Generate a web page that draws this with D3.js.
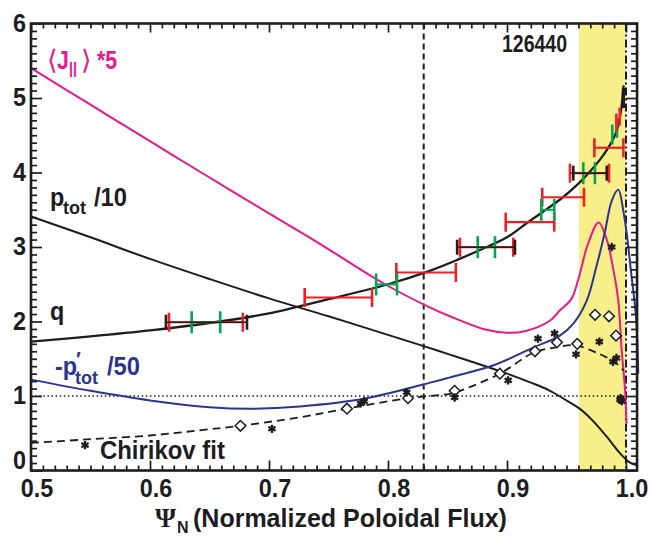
<!DOCTYPE html>
<html><head><meta charset="utf-8">
<script src="https://cdn.jsdelivr.net/npm/d3@7"></script>
<style>body{margin:0;background:#fff}svg{display:block}</style>
</head><body>
<svg id="chart" width="652" height="543"></svg>
<script>
// Profiles vs normalized poloidal flux, shot 126440
const qProfile = [[0.5,1.73],[0.55,1.8],[0.6,1.88],[0.65,1.98],[0.7,2.11],[0.75,2.3],[0.8,2.5],[0.835,2.68],[0.86,2.84],[0.883,3.0],[0.9,3.13],[0.9176,3.333],[0.93,3.47],[0.947,3.668],[0.96,3.85],[0.969,4.0],[0.978,4.17],[0.985,4.33],[0.9922,4.56],[0.9958,4.83],[0.998,5.17]];
const pTot = [[0.5,3.41],[0.55,3.13],[0.6,2.84],[0.65,2.57],[0.7,2.31],[0.75,2.07],[0.8,1.82],[0.83,1.67],[0.852,1.555],[0.88,1.41],[0.9,1.3],[0.92,1.18],[0.935,1.08],[0.947,0.97],[0.961,0.83],[0.972,0.67],[0.984,0.45],[0.995,0.23],[1.003,0.11],[1.009,0.07]];
const jPar = [[0.5,5.4],[0.55,4.91],[0.6,4.42],[0.64,4.03],[0.7,3.45],[0.74,3.07],[0.7975,2.5],[0.835,2.19],[0.852,2.07],[0.88,1.9],[0.9,1.85],[0.915,1.87],[0.936,2.01],[0.9445,2.15],[0.954,2.3],[0.96,2.57],[0.968,3.04],[0.977,3.33],[0.984,3.09],[0.989,2.73],[0.9935,2.28],[0.9964,1.61],[0.999,1.12],[1.0005,0.63]];
const dpTot = [[0.5,1.22],[0.55,1.07],[0.6,0.94],[0.65,0.85],[0.687,0.83],[0.726,0.86],[0.782,0.97],[0.838,1.19],[0.852,1.25],[0.89,1.42],[0.922,1.65],[0.9445,1.81],[0.9557,1.97],[0.967,2.28],[0.975,2.73],[0.982,3.18],[0.988,3.62],[0.9935,3.77],[0.9977,3.49],[1.001,3.13],[1.004,2.7],[1.0084,2.06],[1.0103,1.3]];
const chirikovFit = [[0.5,0.37],[0.55,0.42],[0.6,0.47],[0.642,0.54],[0.676,0.6],[0.726,0.715],[0.7655,0.83],[0.8168,0.97],[0.852,1.03],[0.8605,1.07],[0.894,1.3],[0.922,1.58],[0.94,1.65],[0.958,1.68],[0.9725,1.6],[0.981,1.54],[0.991,1.45],[0.998,1.34]];
const chirikovDiamonds = [[0.676,0.6],[0.7655,0.83],[0.8168,0.97],[0.856,1.07],[0.894,1.3],[0.9235,1.6],[0.942,1.72],[0.959,1.7],[0.974,2.09],[0.9857,2.07],[0.9916,1.81]];
const chirikovStars = [[0.5454,0.34],[0.7025,0.56],[0.777,0.9],[0.78,0.93],[0.8157,1.05],[0.856,0.98],[0.901,1.21],[0.926,1.77],[0.94,1.84],[0.958,1.56],[0.9776,1.73],[0.989,1.46],[0.992,1.51],[0.988,3.0],[0.995,0.95],[0.9965,0.93],[0.9955,0.97]];
// island widths: [y, x-left, x-right]
const redBars = [[1.99,0.616,0.678],[2.322,0.73,0.7866],[2.658,0.807,0.857],[2.997,0.8605,0.9053],[3.333,0.8989,0.9397],[3.668,0.9296,0.9647],[3.991,0.9529,0.9857],[4.332,0.9734,0.9978]];
const blackBars = [[1.99,0.6134,0.6815],[2.997,0.8581,0.9067],[3.991,0.9557,0.9838]];
const greenBars = [[1.99,0.635,0.659],[2.497,0.79,0.8076],[2.997,0.8754,0.8899],[3.499,0.9288,0.9397],[3.991,0.9641,0.9739]];
const greenTicks = [[0.9885,4.51],[0.9924,4.6]];
const redTicks = [[0.9919,4.67],[0.9947,4.75]];
const blackTicks = [[0.9978,5.0]];
const xMajor = [0.5,0.6,0.7,0.8,0.9,1.0];
const xLabels = ["0.5","0.6","0.7","0.8","0.9","1.0"];
const yMajor = [0,1,2,3,4,5,6];
const yLabels = ["0","1","2","3","4","5","6"];
const edgeBand = [0.9605,1.0];
const qCrit = 0.83;
const shotLabel = "126440";

const C = {mag:"#E6198A", blue:"#2B3590", red:"#EC2028", green:"#00A651", yellow:"#F8EF8A", ink:"#1d1d1f"};

const svg = d3.select("#chart");
const xMax = 1.0093;
const x = d3.scaleLinear().domain([0.5,1.0]).range([31,626]);
const y = d3.scaleLinear().domain([0,6]).range([470.5,23.5]);
const X0 = x(0.5), X1 = x(xMax), Y0 = y(0), Y1 = y(6);

// edge band
svg.append("rect").attr("x",x(edgeBand[0])).attr("y",Y1).attr("width",x(edgeBand[1])-x(edgeBand[0])).attr("height",Y0-Y1).attr("fill",C.yellow);

// reference lines
svg.append("line").attr("x1",X0).attr("x2",x(1.0)).attr("y1",y(1)).attr("y2",y(1))
  .attr("stroke",C.ink).attr("stroke-width",1.4).attr("stroke-dasharray","1.5,2.6");
svg.append("line").attr("x1",x(qCrit)).attr("x2",x(qCrit)).attr("y1",Y1).attr("y2",Y0)
  .attr("stroke",C.ink).attr("stroke-width",2).attr("stroke-dasharray","6,4");
svg.append("line").attr("x1",x(1.0)).attr("x2",x(1.0)).attr("y1",Y1).attr("y2",Y0)
  .attr("stroke",C.ink).attr("stroke-width",2).attr("stroke-dasharray","8,3,2,3");

const line = d3.line().x(d=>x(d[0])).y(d=>y(d[1])).curve(d3.curveCatmullRom.alpha(0.5));
function curve(data, color, w, dash){
  const p = svg.append("path").attr("d",line(data)).attr("fill","none").attr("stroke",color).attr("stroke-width",w).attr("stroke-linejoin","round");
  if(dash) p.attr("stroke-dasharray",dash);
}
curve(jPar, C.mag, 2);
curve(pTot, C.ink, 2);
curve(dpTot, C.blue, 2);
curve(chirikovFit, C.ink, 1.8, "8,5");
curve(qProfile, C.ink, 2.3);

// Chirikov points
svg.selectAll(".dia").data(chirikovDiamonds).join("path").attr("class","dia")
  .attr("transform",d=>`translate(${x(d[0])},${y(d[1])})`)
  .attr("d",d3.symbol(d3.symbolDiamond2,72)()).attr("fill","#fff").attr("stroke",C.ink).attr("stroke-width",1.5);
svg.selectAll(".star").data(chirikovStars).join("path").attr("class","star")
  .attr("transform",d=>`translate(${x(d[0])},${y(d[1])})`)
  .attr("d",d3.symbol(d3.symbolAsterisk,48)()).attr("fill","none").attr("stroke",C.ink).attr("stroke-width",2.3);

// island width bars with end caps
function bars(data, color, w, capH){
  const g = svg.append("g").attr("stroke",color).attr("stroke-width",w);
  data.forEach(([yy,a,b])=>{
    g.append("line").attr("x1",x(a)).attr("x2",x(b)).attr("y1",y(yy)).attr("y2",y(yy));
    [a,b].forEach(v=>g.append("line").attr("x1",x(v)).attr("x2",x(v)).attr("y1",y(yy)-capH).attr("y2",y(yy)+capH).attr("stroke-width",2.6));
  });
}
function ticks(data, color, capH, w){
  svg.append("g").selectAll("line").data(data).join("line")
    .attr("x1",d=>x(d[0])).attr("x2",d=>x(d[0])).attr("y1",d=>y(d[1])-capH).attr("y2",d=>y(d[1])+capH)
    .attr("stroke",color).attr("stroke-width",w);
}
bars(redBars, C.red, 2.2, 9.5);
bars(greenBars, C.green, 2, 11);
bars(blackBars, "#2a1a1a", 1.6, 7.5);
ticks(greenTicks, C.green, 10, 2.6);
ticks(redTicks, C.red, 9, 2.6);
ticks(blackTicks, C.ink, 10, 3.2);

// axes: inward ticks on all four sides
const xMinor = d3.range(50,101).map(v=>v/100).filter(v=>Math.round(v*100)%10!==0);
const yMinor = d3.range(0,61).map(v=>v/10).filter(v=>Math.round(v*10)%10!==0);
function axis(gen, tr){
  svg.append("g").attr("transform",tr).call(gen)
    .call(g=>g.select(".domain").remove())
    .call(g=>g.selectAll("line").attr("stroke",C.ink).attr("stroke-width",1.7));
}
axis(d3.axisBottom(x).tickValues(xMinor).tickSize(-5).tickFormat(""),`translate(0,${Y0})`);
axis(d3.axisBottom(x).tickValues(xMajor).tickSize(-10).tickFormat(""),`translate(0,${Y0})`);
axis(d3.axisTop(x).tickValues(xMinor).tickSize(-5).tickFormat(""),`translate(0,${Y1})`);
axis(d3.axisTop(x).tickValues(xMajor).tickSize(-9).tickFormat(""),`translate(0,${Y1})`);
axis(d3.axisLeft(y).tickValues(yMinor).tickSize(-6).tickFormat(""),`translate(${X0},0)`);
axis(d3.axisLeft(y).tickValues(yMajor).tickSize(-11).tickFormat(""),`translate(${X0},0)`);
axis(d3.axisRight(y).tickValues(yMinor).tickSize(-6).tickFormat(""),`translate(${X1},0)`);
axis(d3.axisRight(y).tickValues(yMajor).tickSize(-11).tickFormat(""),`translate(${X1},0)`);
svg.append("rect").attr("x",X0).attr("y",Y1).attr("width",X1-X0).attr("height",Y0-Y1)
  .attr("fill","none").attr("stroke",C.ink).attr("stroke-width",2.6);

// text helper: condensed bold sans
function label(px, py, str, o={}){
  const g = svg.append("g").attr("transform",`translate(${px},${py}) scale(${o.sx||1},1)`);
  const t = g.append("text").attr("font-family",o.family||"'Liberation Sans', Arial, sans-serif")
    .attr("font-weight",o.weight||"bold").attr("font-size",o.size||25).attr("fill",o.fill||C.ink)
    .attr("text-anchor",o.anchor||"start");
  t.text(str);
  return t;
}
xMajor.forEach((v,i)=>label(x(v)+6, 497, xLabels[i], {size:26, sx:0.9, anchor:"middle"}));
yMajor.forEach((v,i)=>label(26, v===0 ? 469 : y(v)+8, yLabels[i], {size:26, sx:0.9, anchor:"end"}));

// axis title
label(155, 527, "Ψ", {size:27, family:"'Liberation Serif', serif"});
label(177, 533, "N", {size:16});
label(193, 527, "(Normalized Poloidal Flux)", {size:25});

label(534.5, 52, shotLabel, {size:23, sx:0.85, anchor:"middle"});

// curve labels
label(47, 69, "⟨", {size:27, weight:"normal", family:"'DejaVu Sans', sans-serif", fill:C.mag});
label(57, 69, "J", {size:25, sx:0.85, fill:C.mag});
label(69, 74, "||", {size:16, sx:0.9, fill:C.mag});
label(81, 69, "⟩", {size:27, weight:"normal", family:"'DejaVu Sans', sans-serif", fill:C.mag});
label(97, 69, "*5", {size:25, sx:0.85, fill:C.mag});

label(50, 206, "p", {size:26, sx:0.9});
label(63, 214, "tot", {size:18});
label(94, 206, "/10", {size:25, sx:0.95});

label(50, 320, "q", {size:26, sx:0.9});

label(55, 375, "-p", {size:26, sx:0.9, fill:C.blue});
label(76, 366, "′", {size:20, fill:C.blue, weight:"bold"});
label(75, 384, "tot", {size:18, fill:C.blue});
label(107, 375, "/50", {size:25, sx:0.95, fill:C.blue});

label(100, 459, "Chirikov fit", {size:26, sx:0.92});
</script>
</body></html>
